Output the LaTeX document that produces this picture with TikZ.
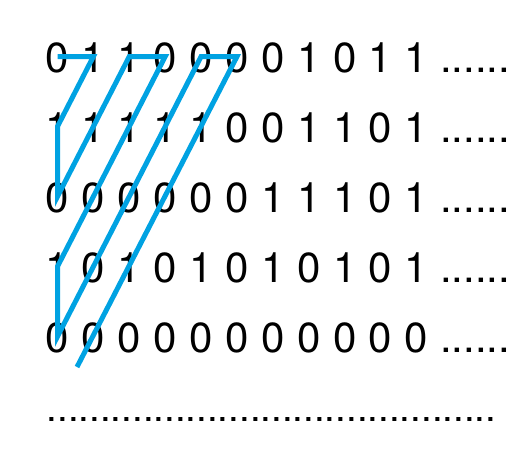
\documentclass[tikz,border=0pt]{standalone}
\usepackage{fontspec}
\setmainfont{TeX Gyre Heros}
\usepackage{xcolor}
\usepackage{tikz}
\definecolor{zigblue}{RGB}{0,162,226}

\begin{document}
\begin{tikzpicture}[x=1pt,y=-1pt,
    digit/.style={inner sep=0pt,anchor=base,text height=31pt,text depth=0pt,
      font=\fontsize{42}{42}\selectfont},
    zigzag/.style={draw=zigblue,line width=5pt}]
  \useasboundingbox (0,0) rectangle (531,455);
  % the listed sequences
  \foreach \bits [count=\r] in {{0,1,1,0,0,0,0,1,0,1,1},{1,1,1,1,1,0,0,1,1,0,1},
      {0,0,0,0,0,0,1,1,1,0,1},{1,0,1,0,1,0,1,0,1,0,1},{0,0,0,0,0,0,0,0,0,0,0}}{
    \foreach \b [count=\c] in \bits
      \node[digit] (d-\r-\c) at ({57.5+35.9*(\c-1)},{2+70*\r}) {\b};
    \node[digit,anchor=base west] (e-\r) at (440,{2+70*\r}) {......};
  }
  \node[inner sep=0pt,anchor=base west,font=\fontsize{38.5}{38.5}\selectfont]
    (more) at (46.5,421) {..........................................};
  % diagonal walk
  \coordinate (tail) at (77,367);
  \draw[zigzag] (d-1-1.center) -- (d-1-2.center) -- (d-2-1.center)
    -- (d-3-1.center) -- (d-1-3.center) -- (d-1-4.center) -- (d-4-1.center)
    -- (d-5-1.center) -- (d-1-5.center) -- (d-1-6.center) -- (tail);
\end{tikzpicture}
\end{document}
